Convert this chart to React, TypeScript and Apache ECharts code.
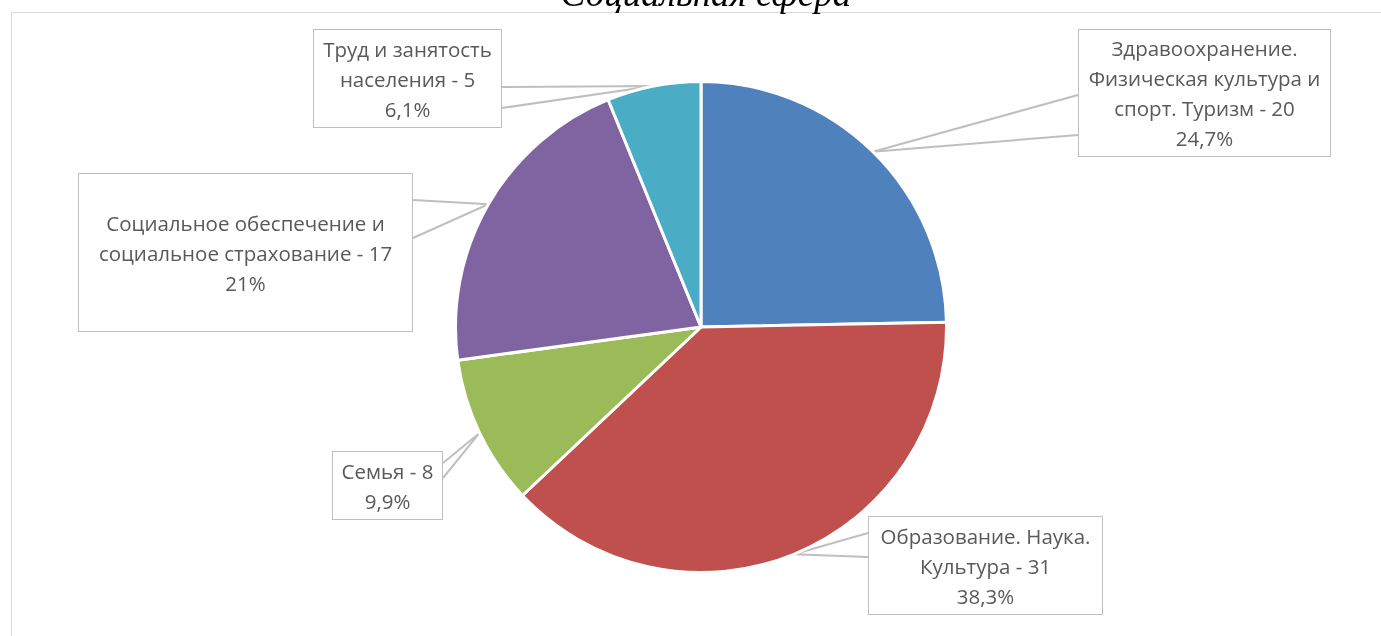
import React, { useEffect, useRef } from "react";
import * as echarts from "echarts";

// ---- data ----
const chartTitle = "Социальная сфера";
const categories = [
  "Здравоохранение.\nФизическая культура и\nспорт. Туризм",
  "Образование. Наука.\nКультура",
  "Семья",
  "Социальное обеспечение и\nсоциальное страхование",
  "Труд и занятость\nнаселения",
];
const values = [20, 31, 8, 17, 5];
const percentLabels = ["24,7%", "38,3%", "9,9%", "21%", "6,1%"];
const colors = ["#4F81BD", "#C0504D", "#9BBB59", "#8064A2", "#4BACC6"];

// ---- label box layout (annotation positions, px) ----
const boxes = [
  { x: 1078, y: 30, w: 253, h: 126, lines: 4, side: "left", wy: [95, 135] },
  { x: 868, y: 517, w: 235, h: 97, lines: 3, side: "left", wy: [533, 557] },
  { x: 332, y: 452, w: 111, h: 67, lines: 2, side: "right", wy: [463, 478] },
  { x: 78, y: 174, w: 335, h: 157, lines: 3, side: "right", wy: [200, 238] },
  { x: 313, y: 30, w: 189, h: 97, lines: 3, side: "right", wy: [87, 108] },
];
const LINE_H = 30;

export default function App() {
  const ref = useRef<HTMLDivElement>(null);
  useEffect(() => {
    if (!ref.current) return;
    const chart = echarts.init(ref.current, null, { renderer: "svg" });
    const cx = 701;
    const cy = 327;
    const data = categories.map((name, i) => {
      const b = boxes[i];
      const padV = (b.h - b.lines * LINE_H) / 2;
      return {
        name,
        value: values[i],
        itemStyle: { color: colors[i] },
        label: {
          width: b.w - 2,
          padding: [padV, 0, padV, 0],
        },
      };
    });
    chart.setOption({
      animation: false,
      title: {
        text: chartTitle,
        left: cx,
        textAlign: "center",
        top: -30,
        textStyle: {
          fontFamily: "Liberation Serif",
          fontStyle: "italic",
          fontWeight: "normal",
          fontSize: 37,
          color: "#000",
        },
      },
      graphic: [
        {
          type: "rect",
          shape: { x: 11.5, y: 12.5, width: 1450, height: 700 },
          style: { fill: "none", stroke: "#D9D9D9", lineWidth: 1 },
          silent: true,
          z: -1,
        },
      ],
      series: [
        {
          type: "pie",
          center: [cx, cy],
          radius: 245.5,
          startAngle: 90,
          clockwise: true,
          avoidLabelOverlap: false,
          data,
          itemStyle: { borderColor: "#fff", borderWidth: 3 },
          emphasis: { disabled: true },
          label: {
            show: true,
            position: "outside",
            fontFamily: "Open Sans",
            fontSize: 20.5,
            lineHeight: LINE_H,
            color: "#595959",
            backgroundColor: "#fff",
            borderColor: "#BFBFBF",
            borderWidth: 1,
            align: "center",
            formatter: (p: any) =>
              `${p.name} - ${p.value}\n${percentLabels[p.dataIndex]}`,
          },
          labelLine: {
            show: true,
            lineStyle: { color: "#BFBFBF", width: 2 },
          },
          labelLayout: (params: any) => {
            const i = params.dataIndex;
            const b = boxes[i];
            let pt = params.labelLinePoints && params.labelLinePoints[0];
            if (!pt) {
              const total = values.reduce((a, v) => a + v, 0);
              const before = values.slice(0, i).reduce((a, v) => a + v, 0);
              const ang = ((before + values[i] / 2) / total) * Math.PI * 2;
              pt = [cx + 244 * Math.sin(ang), cy - 244 * Math.cos(ang)];
            }
            const ex = b.side === "left" ? b.x : b.x + b.w;
            return {
              x: b.x + b.w / 2,
              y: b.y,
              align: "center",
              verticalAlign: "top",
              labelLinePoints: [
                [ex, b.wy[0]],
                [pt[0], pt[1]],
                [ex, b.wy[1]],
              ],
            };
          },
        },
      ],
    });
    return () => chart.dispose();
  }, []);
  return (
    <div
      ref={ref}
      style={{ position: "fixed", left: 0, top: 0, width: 1381, height: 636 }}
    />
  );
}
